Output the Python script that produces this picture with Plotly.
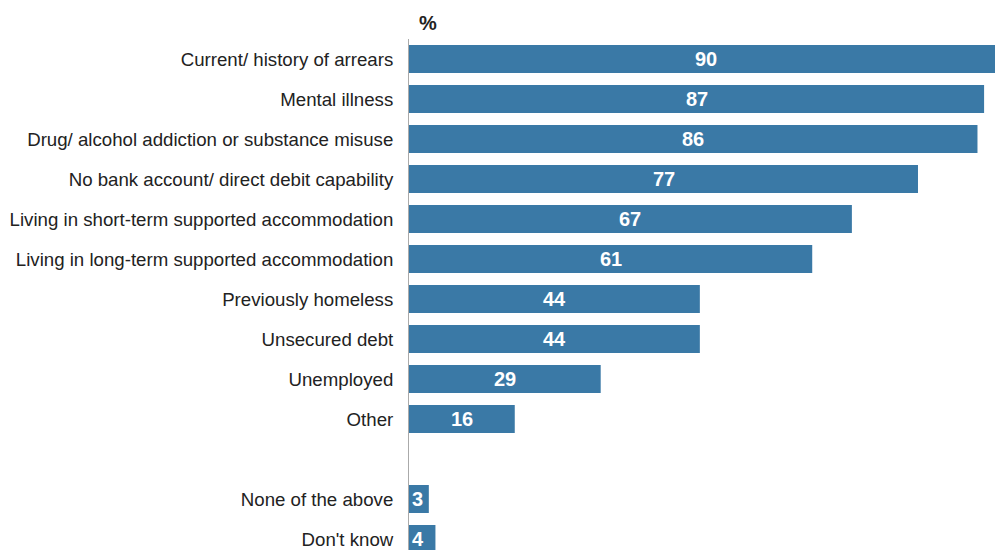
import plotly.graph_objects as go

categories = [
    "Current/ history of arrears",
    "Mental illness",
    "Drug/ alcohol addiction or substance misuse",
    "No bank account/ direct debit capability",
    "Living in short-term supported accommodation",
    "Living in long-term supported accommodation",
    "Previously homeless",
    "Unsecured debt",
    "Unemployed",
    "Other",
    "None of the above",
    "Don't know",
]
values = [90, 87, 86, 77, 67, 61, 44, 44, 29, 16, 3, 4]
spacer = " "
category_order = categories[:10] + [spacer] + categories[10:]

BAR_COLOR = "#3a79a6"
FONT = "Liberation Sans, Arial, sans-serif"

fig = go.Figure(
    go.Bar(
        x=values,
        y=categories,
        orientation="h",
        marker=dict(color=BAR_COLOR, line=dict(width=0)),
        width=0.7,
        hoverinfo="skip",
    )
)

annotations = []
for c, v in zip(categories, values):
    if v < 10:
        annotations.append(dict(x=0, y=c, xref="x", yref="y", text=f"<b>{v}</b>",
                                showarrow=False, xanchor="left", xshift=1,
                                font=dict(family=FONT, size=20, color="white")))
    else:
        annotations.append(dict(x=v / 2, y=c, xref="x", yref="y", text=f"<b>{v}</b>",
                                showarrow=False, xanchor="center",
                                font=dict(family=FONT, size=20, color="white")))

annotations.append(dict(x=0, y=1, xref="x", yref="paper", text="<b>%</b>",
                        showarrow=False, xanchor="left", yanchor="bottom", xshift=8, yshift=3,
                        font=dict(family=FONT, size=20, color="#222222")))

fig.update_layout(
    width=995,
    height=550,
    autosize=False,
    margin=dict(l=409, r=0, t=39, b=0),
    paper_bgcolor="white",
    plot_bgcolor="white",
    showlegend=False,
    bargap=0.3,
    font=dict(family=FONT, size=18.67, color="#222222"),
    xaxis=dict(range=[0, 88.65], visible=False, fixedrange=True),
    yaxis=dict(
        type="category",
        categoryorder="array",
        categoryarray=category_order,
        range=[12.275, -0.5],
        showline=True,
        linecolor="#aaaaaa",
        linewidth=1,
        ticks="",
        ticklabelstandoff=11,
        showgrid=False,
        zeroline=False,
        fixedrange=True,
        tickfont=dict(family=FONT, size=18.67, color="#222222"),
    ),
    annotations=annotations,
)

fig.write_html(
    "out.html",
    config={"responsive": False, "displayModeBar": False, "staticPlot": True},
    post_script=(
        "document.documentElement.style.overflow='hidden';"
        "document.body.style.overflow='hidden';"
        "document.body.style.margin='0';"
    ),
)
